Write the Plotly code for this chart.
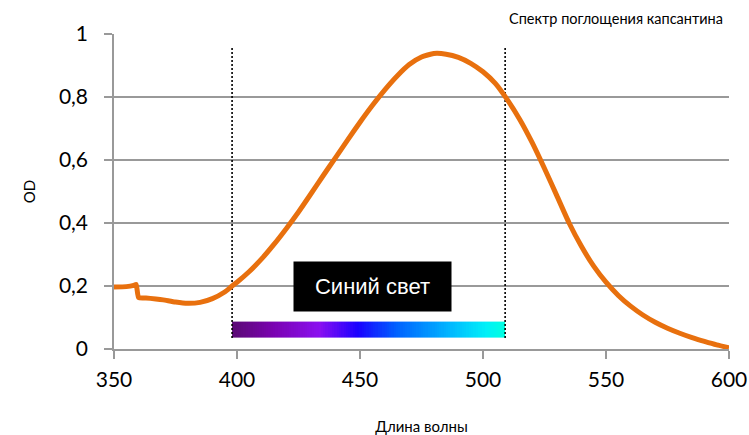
import numpy as np
import plotly.graph_objects as go

# Absorption spectrum of capsanthin (wavelength in nm, optical density)
wavelength = [350, 355, 358, 359, 360, 363, 367, 370, 375, 380, 385, 390, 395, 398,
              400, 405, 410, 415, 420, 425, 430, 435, 440, 445, 450, 455,
              460, 465, 470, 475, 480, 485, 490, 495, 500, 505, 510,
              515, 520, 525, 530, 535, 540, 545, 550, 555, 560, 565, 570, 575,
              580, 585, 590, 595, 600]
od = [0.197, 0.198, 0.202, 0.205, 0.163, 0.162, 0.159, 0.156, 0.149, 0.145, 0.148, 0.160, 0.181, 0.200,
      0.212, 0.246, 0.286, 0.332, 0.382, 0.435, 0.492, 0.550, 0.607, 0.664, 0.720, 0.773,
      0.822, 0.866, 0.903, 0.927, 0.938, 0.936, 0.926, 0.907, 0.880, 0.843, 0.790,
      0.728, 0.655, 0.573, 0.487, 0.400, 0.326, 0.263, 0.212, 0.170, 0.136, 0.108, 0.085, 0.066,
      0.050, 0.036, 0.024, 0.013, 0.004]

# Blue light band
band_edges = [398, 509]
band_od = [0.035, 0.087]
marker_top = 0.96
band_label = "Синий свет"
band_label_pos = (455, 0.2)

# Colour stops of the band strip (position within band, colour)
band_colors = [
    [0.0, "#5a0a74"],
    [0.15, "#7a02b0"],
    [0.32, "#8a10f0"],
    [0.46, "#1a00ff"],
    [0.60, "#0060ff"],
    [0.80, "#00b8ff"],
    [0.93, "#00f0f8"],
    [1.0, "#00ffe0"],
]

title_text = "Спектр поглощения капсантина"
x_title = "Длина волны"
y_title = "OD"
x_ticks = [350, 400, 450, 500, 550, 600]
y_ticks = [0, 0.2, 0.4, 0.6, 0.8, 1]

grid_color = "#999999"
curve_color = "#E8700E"
font_family = "Lato, Open Sans, sans-serif"

fig = go.Figure()

# Gradient strip as a single-row heatmap spanning the band
n_cells = 120
strip_x = np.linspace(band_edges[0], band_edges[1], n_cells + 1)
strip_z = [list((strip_x[:-1] + strip_x[1:]) / 2)]
fig.add_trace(go.Heatmap(
    x=strip_x, y=band_od, z=strip_z,
    zmin=band_edges[0], zmax=band_edges[1],
    colorscale=band_colors, showscale=False, hoverinfo="skip",
))

# Dotted boundary markers of the band
for edge in band_edges:
    fig.add_trace(go.Scatter(
        x=[edge, edge], y=[band_od[0], marker_top], mode="lines",
        line=dict(color="black", width=1.6, dash="2px,2px"),
        hoverinfo="skip", showlegend=False,
    ))

# Spectrum curve
fig.add_trace(go.Scatter(
    x=wavelength, y=od, mode="lines",
    line=dict(color=curve_color, width=5, shape="spline", smoothing=0.5),
    showlegend=False,
))

fig.add_annotation(
    x=band_label_pos[0], y=band_label_pos[1], xref="x", yref="y",
    text=band_label, showarrow=False,
    font=dict(family="Liberation Sans, Arial, sans-serif", size=22, color="white"),
    bgcolor="black", width=145, height=37, borderpad=6,
)

fig.add_annotation(
    x=1, y=1, xref="paper", yref="paper", xanchor="right", yanchor="bottom",
    xshift=-4, yshift=5, text=title_text, showarrow=False,
    font=dict(family=font_family, size=14.5, color="black"),
)

fig.update_layout(
    width=749, height=435,
    margin=dict(l=114, r=20, t=34, b=86),
    paper_bgcolor="white", plot_bgcolor="white",
    separators=", ",
    showlegend=False,
    font=dict(family=font_family, color="black"),
)

fig.update_xaxes(
    range=[350, 600], tickvals=x_ticks, automargin=False,
    showgrid=False, showline=True, linecolor=grid_color, linewidth=1.5,
    ticks="outside", ticklen=8, tickcolor=grid_color, tickwidth=1.5,
    tickfont=dict(size=21), ticklabelstandoff=3,
    title=dict(text=x_title, font=dict(size=15), standoff=32),
    zeroline=False,
)
fig.update_yaxes(
    range=[0, 1], tickvals=y_ticks, automargin=False,
    showgrid=True, gridcolor=grid_color, gridwidth=1.5,
    showline=True, linecolor=grid_color, linewidth=1.5,
    ticks="outside", ticklen=8, tickcolor=grid_color, tickwidth=1.5,
    tickfont=dict(size=21), ticklabelstandoff=12,
    title=dict(text=y_title, font=dict(size=15), standoff=20),
    zeroline=False,
)

fig.write_html("out.html")
